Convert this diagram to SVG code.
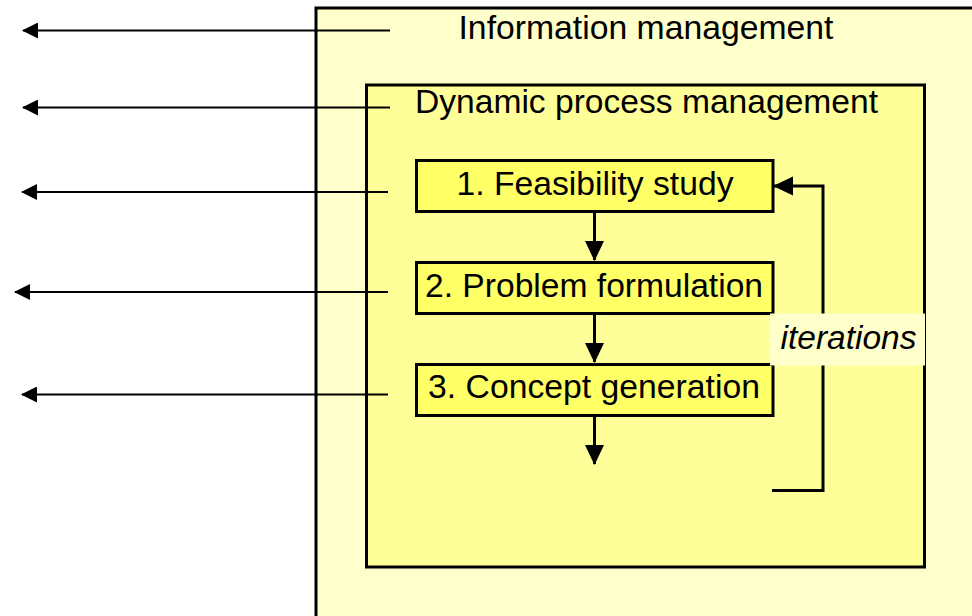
<svg xmlns="http://www.w3.org/2000/svg" width="972" height="616" viewBox="0 0 972 616">
<style>
text{font-family:"Liberation Sans",Arial,sans-serif;font-size:33.5px;fill:#000}
.frame{stroke:#000;stroke-width:3}
.step{fill:#FFFF66;stroke:#000;stroke-width:3}
.c{fill:none;stroke:#000;stroke-width:3}
.l{fill:none;stroke:#000;stroke-width:2.2}
</style>
<defs>
<marker id="ah" markerWidth="20" markerHeight="20" refX="19" refY="9.5" orient="auto" markerUnits="userSpaceOnUse" viewBox="0 0 20 19">
<path d="M0,0 L20,9.5 L0,19 Z" fill="#000"/>
</marker>
<marker id="al" markerWidth="16" markerHeight="16" refX="15" refY="8" orient="auto" markerUnits="userSpaceOnUse" viewBox="0 0 16 16">
<path d="M0,0 L16,8 L0,16 Z" fill="#000"/>
</marker>
</defs>
<g id="information-management">
<rect class="frame" x="316" y="8" width="670" height="620" fill="#FFFFCC"/>
<text x="646" y="39" text-anchor="middle" textLength="375" lengthAdjust="spacingAndGlyphs">Information management</text>
</g>
<g id="dynamic-process-management">
<rect class="frame" x="366.5" y="85" width="558" height="482" fill="#FFFF99"/>
<text x="646.5" y="113" text-anchor="middle" textLength="463" lengthAdjust="spacingAndGlyphs">Dynamic process management</text>
</g>
<g id="feasibility-study">
<rect class="step" x="416.5" y="160.5" width="356.5" height="51"/>
<text x="595" y="195" text-anchor="middle" textLength="277" lengthAdjust="spacingAndGlyphs">1. Feasibility study</text>
</g>
<g id="problem-formulation">
<rect class="step" x="416.5" y="262.5" width="356.5" height="51"/>
<text x="594" y="297" text-anchor="middle" textLength="338" lengthAdjust="spacingAndGlyphs">2. Problem formulation</text>
</g>
<g id="concept-generation">
<rect class="step" x="416.5" y="364.5" width="356.5" height="51"/>
<text x="594" y="398" text-anchor="middle" textLength="332" lengthAdjust="spacingAndGlyphs">3. Concept generation</text>
</g>
<g id="connectors">
<line class="l" x1="390" y1="30.5" x2="23" y2="30.5" marker-end="url(#al)"/>
<line class="l" x1="390" y1="107.5" x2="23" y2="107.5" marker-end="url(#al)"/>
<line class="l" x1="388" y1="192" x2="22" y2="192" marker-end="url(#al)"/>
<line class="l" x1="388" y1="292" x2="15" y2="292" marker-end="url(#al)"/>
<line class="l" x1="388" y1="394.5" x2="22" y2="394.5" marker-end="url(#al)"/>
<line class="c" x1="594.5" y1="212" x2="594.5" y2="260" marker-end="url(#ah)"/>
<line class="c" x1="594.5" y1="314" x2="594.5" y2="362" marker-end="url(#ah)"/>
<line class="c" x1="594.5" y1="416" x2="594.5" y2="464" marker-end="url(#ah)"/>
<polyline class="c" points="772,490.5 823,490.5 823,186 774,186" marker-end="url(#ah)"/>
</g>
<g id="iterations-label">
<rect x="770" y="313.5" width="155" height="52" fill="#FFFFCC"/>
<text x="848.5" y="349" text-anchor="middle" font-style="italic" textLength="136" lengthAdjust="spacingAndGlyphs">iterations</text>
</g>
</svg>
